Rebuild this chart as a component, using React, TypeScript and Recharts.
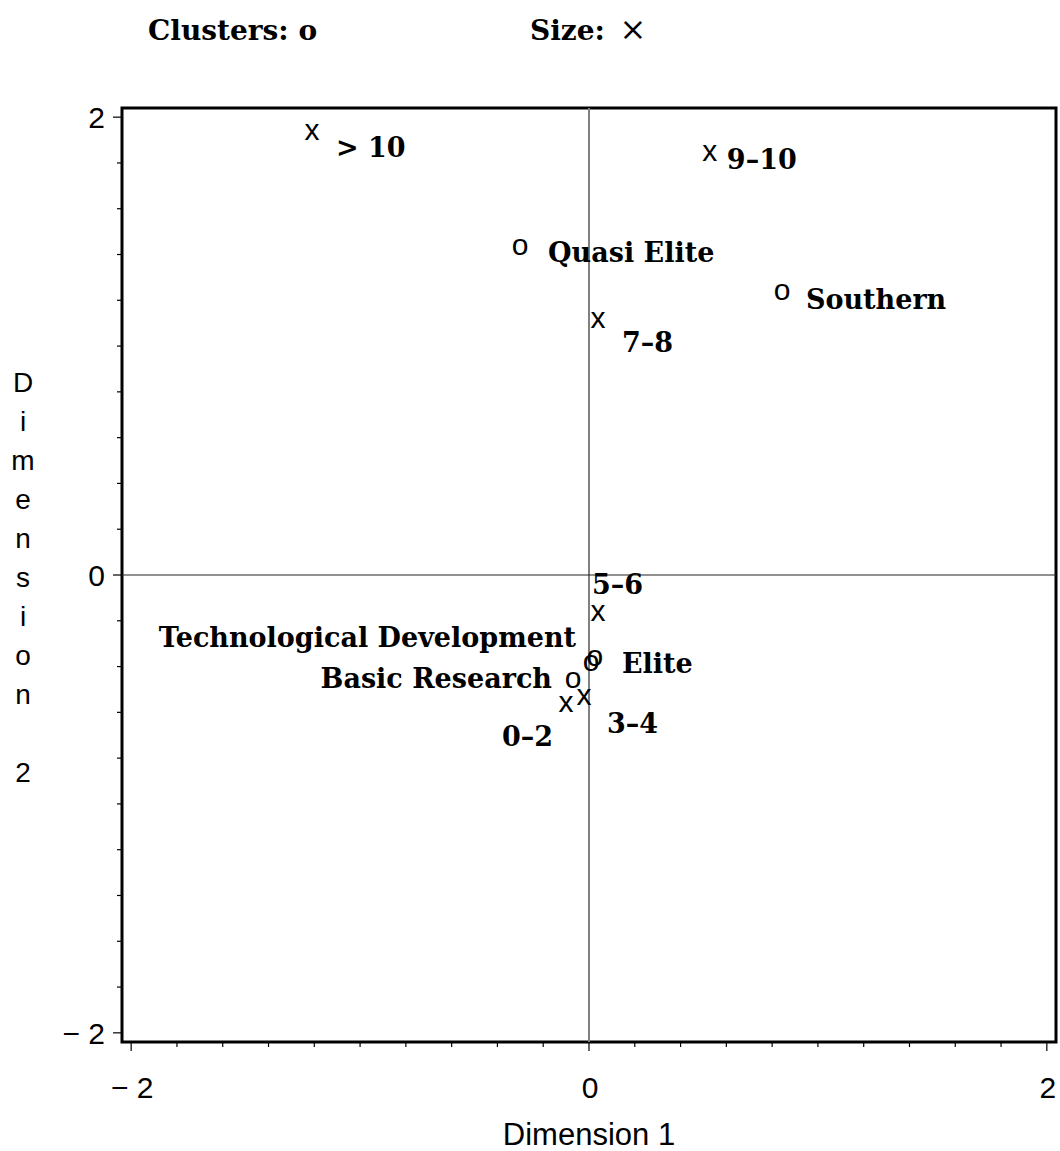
import React from "react";
import { ScatterChart, Scatter, XAxis, YAxis, ReferenceLine, ReferenceArea } from "recharts";

// cluster centroids (o) and size classes (x) on the first two dimensions
const clusterNames = ["Quasi Elite", "Southern", "Technological Development", "Elite", "Basic Research"];
const clusterDim1 = [-0.301, 0.843, 0.009, 0.026, -0.07];
const clusterDim2 = [1.432, 1.236, -0.384, -0.362, -0.459];

const sizeNames = ["> 10", "9\u201310", "7\u20138", "5\u20136", "3\u20134", "0\u20132"];
const sizeDim1 = [-1.21, 0.528, 0.039, 0.039, -0.022, -0.1];
const sizeDim2 = [1.934, 1.843, 1.114, -0.166, -0.533, -0.563];

const labelledTicks = [-2, 0, 2];
const allTicks = Array.from({ length: 21 }, (_, i) => Math.round((-2 + i * 0.2) * 10) / 10);

const clusters = clusterNames.map((name, i) => ({ name, x: clusterDim1[i], y: clusterDim2[i] }));
const sizes = sizeNames.map((name, i) => ({ name, x: sizeDim1[i], y: sizeDim2[i] }));

// where each point label sits relative to its marker
const labelPlace: Record<string, { dx: number; dy: number; anchor: "start" | "end" }> = {
  "Quasi Elite": { dx: 28, dy: 15, anchor: "start" },
  Southern: { dx: 24, dy: 17, anchor: "start" },
  "Technological Development": { dx: -15, dy: -16, anchor: "end" },
  Elite: { dx: 27, dy: 15, anchor: "start" },
  "Basic Research": { dx: -21, dy: 8, anchor: "end" },
  "> 10": { dx: 24, dy: 25, anchor: "start" },
  "9\u201310": { dx: 17, dy: 16, anchor: "start" },
  "7\u20138": { dx: 24, dy: 32, anchor: "start" },
  "5\u20136": { dx: -6, dy: -19, anchor: "start" },
  "3\u20134": { dx: 23, dy: 36, anchor: "start" },
  "0\u20132": { dx: -13, dy: 42, anchor: "end" },
};

const SANS = "'Liberation Sans', Arial, sans-serif";
const SERIF = "'DejaVu Serif', serif";
const D = 2.04;

const fmt = (v: number) => (v < 0 ? `\u2212 ${Math.abs(v)}` : `${v}`);

function makeGlyph(glyph: string) {
  return (props: any) => {
    const { cx, cy, payload } = props;
    const p = labelPlace[payload.name];
    return (
      <g>
        <text x={cx} y={cy + 8} textAnchor="middle" fontFamily={SANS} fontSize={30} fill="#000">
          {glyph}
        </text>
        <text
          x={cx + p.dx}
          y={cy + p.dy}
          textAnchor={p.anchor}
          fontFamily={SERIF}
          fontWeight="bold"
          fontSize={27}
          fill="#000"
        >
          {payload.name}
        </text>
      </g>
    );
  };
}

const XTick = (props: any) => {
  const { x, y, payload } = props;
  const major = labelledTicks.includes(payload.value);
  return (
    <g>
      <line x1={x} x2={x} y1={y} y2={y + (major ? 9 : 5)} stroke="#000" strokeWidth={1.2} />
      {major && (
        <text x={x + 1} y={y + 56} textAnchor="middle" fontFamily={SANS} fontSize={30} fill="#000">
          {fmt(payload.value)}
        </text>
      )}
    </g>
  );
};

const YTick = (props: any) => {
  const { x, y, payload } = props;
  const major = labelledTicks.includes(payload.value);
  return (
    <g>
      <line x1={x} x2={x - (major ? 9 : 5)} y1={y} y2={y} stroke="#000" strokeWidth={1.2} />
      {major && (
        <text x={x - 17} y={y + 11} textAnchor="end" fontFamily={SANS} fontSize={30} fill="#000">
          {fmt(payload.value)}
        </text>
      )}
    </g>
  );
};

const verticalTitle = ["D", "i", "m", "e", "n", "s", "i", "o", "n", "", "2"];

export default function App() {
  return (
    <div style={{ position: "absolute", left: 0, top: 0, width: 1060, height: 1151, background: "#fff" }}>
      <ScatterChart width={1060} height={1151} margin={{ top: 108, right: 4, bottom: 9, left: 62 }}>
        <XAxis
          type="number"
          dataKey="x"
          domain={[-D, D]}
          allowDataOverflow
          ticks={allTicks}
          interval={0}
          tick={XTick}
          tickLine={false}
          axisLine={false}
          tickSize={0}
          tickMargin={0}
          height={100}
        />
        <YAxis
          type="number"
          dataKey="y"
          domain={[-D, D]}
          allowDataOverflow
          ticks={allTicks}
          interval={0}
          tick={YTick}
          tickLine={false}
          axisLine={false}
          tickSize={0}
          tickMargin={0}
          width={60}
        />
        <ReferenceLine x={0} stroke="#808080" strokeWidth={2} />
        <ReferenceLine y={0} stroke="#222" strokeWidth={1} />
        <ReferenceArea x1={-D} x2={D} y1={-D} y2={D} fill="none" fillOpacity={0} stroke="#000" strokeWidth={3} />
        <Scatter data={sizes} shape={makeGlyph("x")} isAnimationActive={false} />
        <Scatter data={clusters} shape={makeGlyph("o")} isAnimationActive={false} />
      </ScatterChart>
      <svg
        width={1060}
        height={1151}
        style={{ position: "absolute", left: 0, top: 0, pointerEvents: "none" }}
      >
        <text x={148} y={40} fontFamily={SERIF} fontWeight="bold" fontSize={28} fill="#000">
          Clusters: o
        </text>
        <text x={530} y={40} fontFamily={SERIF} fontWeight="bold" fontSize={28} fill="#000">
          Size:
        </text>
        <text x={633} y={40} textAnchor="middle" fontFamily={SERIF} fontSize={32} fill="#000">
          {"\u00d7"}
        </text>
        <text x={589} y={1145} textAnchor="middle" fontFamily={SANS} fontSize={31} fill="#000">
          Dimension 1
        </text>
        {verticalTitle.map((ch, i) => (
          <text
            key={i}
            x={23}
            y={392 + i * 39}
            textAnchor="middle"
            fontFamily={SANS}
            fontSize={28}
            fill="#000"
          >
            {ch}
          </text>
        ))}
      </svg>
    </div>
  );
}
